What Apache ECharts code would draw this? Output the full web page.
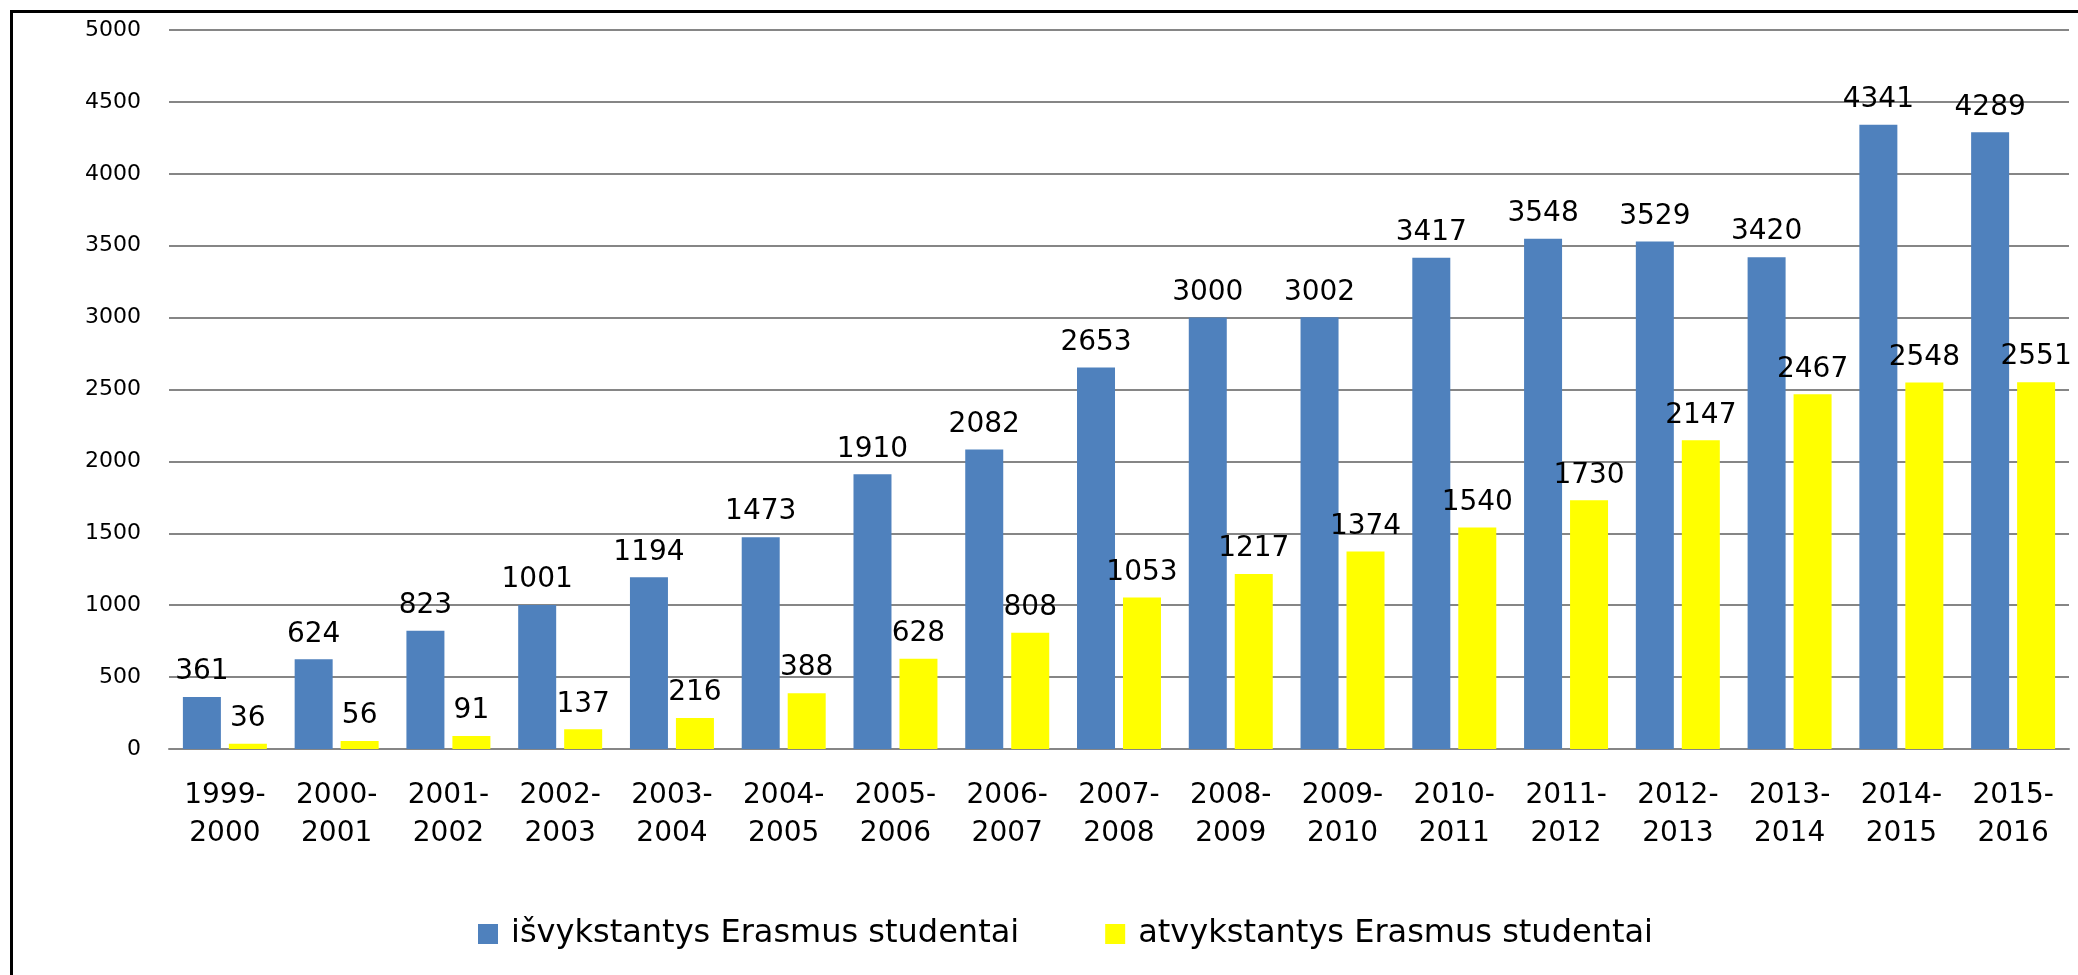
<!DOCTYPE html>
<html>
<head>
<meta charset="utf-8">
<script src="https://cdn.jsdelivr.net/npm/echarts@6/dist/echarts.min.js"></script>
<style>
  html, body { margin: 0; padding: 0; background: #fff; }
  #main { width: 2078px; height: 975px; }
</style>
</head>
<body>
<div id="main"></div>
<script>
var years = ['1999-2000', '2000-2001', '2001-2002', '2002-2003', '2003-2004', '2004-2005',
    '2005-2006', '2006-2007', '2007-2008', '2008-2009', '2009-2010', '2010-2011',
    '2011-2012', '2012-2013', '2013-2014', '2014-2015', '2015-2016'];
var isvykstantys = [361, 624, 823, 1001, 1194, 1473, 1910, 2082, 2653, 3000, 3002, 3417, 3548, 3529, 3420, 4341, 4289];
var atvykstantys = [36, 56, 91, 137, 216, 388, 628, 808, 1053, 1217, 1374, 1540, 1730, 2147, 2467, 2548, 2551];
var seriesNames = ['išvykstantys Erasmus studentai', 'atvykstantys Erasmus studentai'];

var font = 'DejaVu Sans';
var chart = echarts.init(document.getElementById('main'));

// etiketės virš stulpelių
var barLabel = {
    show: true,
    position: 'top',
    distance: 10,
    fontFamily: font,
    fontSize: 28,
    lineHeight: 30,
    color: '#000'
};

var option = {
    animation: false,
    backgroundColor: '#fff',
    color: ['#4F81BD', '#FFFF00'],
    grid: { left: 169, right: 9, top: 30, bottom: 226 },
    legend: {
        data: seriesNames,
        left: 473,
        top: 913,
        itemWidth: 20,
        itemHeight: 20,
        itemGap: 86,
        icon: 'rect',
        textStyle: { fontFamily: font, fontSize: 32, lineHeight: 30, color: '#000', padding: [0, 0, 0, 8] }
    },
    xAxis: {
        type: 'category',
        data: years,
        axisTick: { show: false },
        axisLine: { lineStyle: { color: '#868686', width: 2 } },
        axisLabel: {
            interval: 0,
            margin: 28,
            fontFamily: font,
            fontSize: 28,
            lineHeight: 38,
            color: '#000',
            formatter: function (v) { return v.replace('-', '-\n'); }
        }
    },
    yAxis: {
        type: 'value',
        min: 0,
        max: 5000,
        interval: 500,
        axisLine: { show: false },
        axisTick: { show: false },
        splitLine: { lineStyle: { color: '#868686', width: 2 } },
        axisLabel: {
            margin: 28, fontFamily: font, fontSize: 22, color: '#000',
            formatter: function (v) { return String(v); }
        }
    },
    series: [
        { name: seriesNames[0], type: 'bar', data: isvykstantys, barWidth: 38, barGap: '21%', label: barLabel },
        { name: seriesNames[1], type: 'bar', data: atvykstantys, barWidth: 38, barGap: '21%', label: barLabel }
    ],
    graphic: [{
        type: 'rect',
        shape: { x: 11.5, y: 11.5, width: 2100, height: 1000 },
        style: { fill: 'none', stroke: '#000', lineWidth: 3 },
        silent: true
    }]
};
chart.setOption(option);
</script>
</body>
</html>
